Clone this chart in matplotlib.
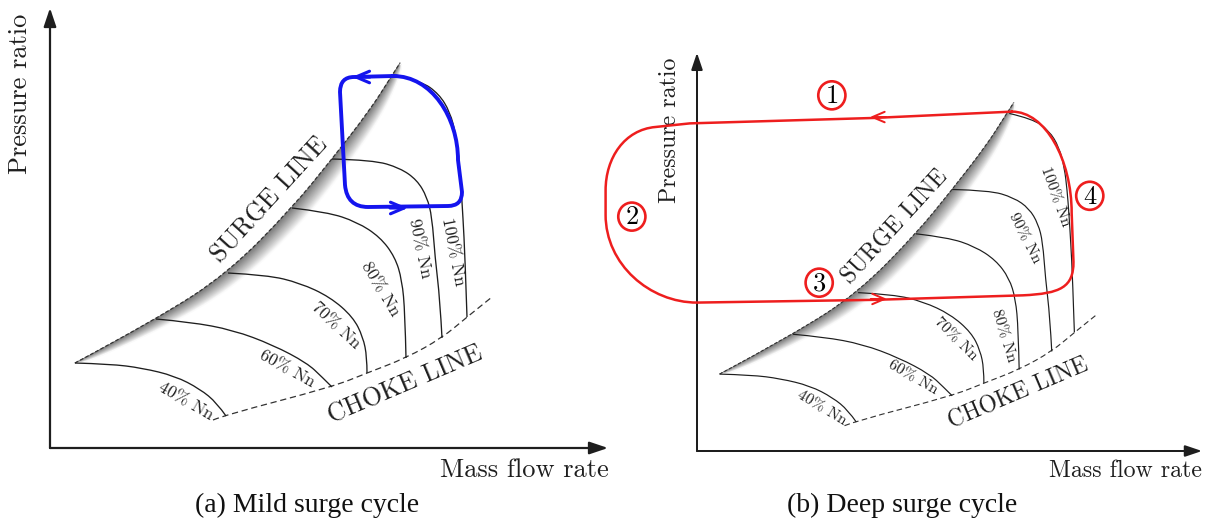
import numpy as np
import matplotlib
matplotlib.use("Agg")
import matplotlib.pyplot as plt
from matplotlib.path import Path
from matplotlib.patches import PathPatch, Ellipse, Polygon

# ---------------- data (map units: mass flow rate, pressure ratio; arbitrary) ----------------
speed_labels = ["40% Nn", "60% Nn", "70% Nn", "80% Nn", "90% Nn", "100% Nn"]

surge_x = [25, 107, 178, 242, 282, 320, 341, 350]
surge_y = [85, 129, 175, 240, 289, 338, 371, 385]

choke_x = [163, 175, 282, 317, 356, 392, 417, 442]
choke_y = [28, 33, 61, 75, 90, 110, 131, 151]

n40_x = [25, 60, 92, 125, 150, 167, 176]
n40_y = [85, 84, 80, 72, 59, 45, 32]
n60_x = [106, 140, 183, 223, 257, 272, 282]
n60_y = [129, 126, 118, 103, 85, 71, 61]
n70_x = [178, 217, 250, 280, 303, 313, 317, 317]
n70_y = [175, 173, 165, 151, 131, 111, 91, 75]
n80_x = [242, 277, 307, 330, 345, 352, 355, 356]
n80_y = [240, 236, 226, 211, 191, 168, 135, 90]
n90_x = [282, 323, 350, 367, 377, 382, 385, 390, 392]
n90_y = [289, 288, 280, 268, 251, 231, 191, 148, 110]
n100_x = [345, 371, 389, 400, 406, 409, 411, 413, 415, 417]
n100_y = [373, 367, 354, 336, 313, 288, 262, 230, 191, 131]

# mild surge cycle (closed loop, rounded rectangle)
mild_x = [343, 304, 290, 290, 295, 297, 318, 398, 412, 412, 408, 408, 382, 343]
mild_y = [372, 371, 371, 356, 263, 241, 241, 242, 242, 256, 288, 330, 372, 372]
mild_codes = ["M", "L", "Q", "Q", "L", "Q", "Q", "L", "Q", "Q", "L", "C", "C", "C"]
mild_arrow_x = [302, 358]
mild_arrow_y = [371, 240]
mild_arrow_dir = [-1, 1]

# deep surge cycle (closed loop)
deep_x = [348, 195, -8, -46, -80, -101, -101, -101, -101, -52, 0, 195, 360, 402, 416, 416, 414, 414, 385, 348]
deep_y = [375, 368, 362, 358, 355, 324, 288, 261, 206, 164, 164, 167, 172, 174, 181, 209, 263, 322, 375, 375]
deep_codes = ["M", "L", "L", "L", "C", "C", "C", "L", "C", "C", "C", "L", "L", "C", "C", "C", "L", "C", "C", "C"]
deep_arrow_x = [191, 210]
deep_arrow_y = [369, 168]
deep_arrow_dir = [-1, 1]

phase_labels = ["1", "2", "3", "4"]
phase_x = [149, -72, 135, 434]
phase_y = [393, 259, 186, 282]

# ---------------- layout ----------------
W, H = 1205, 519
fig = plt.figure(figsize=(W / 100, H / 100), dpi=100)
fig.patch.set_facecolor("white")

CM = "cmr10"
INK = "#1e1e1e"
BLUE = "#1414ee"
RED = "#ee1e1e"

speed_x = [n40_x, n60_x, n70_x, n80_x, n90_x, n100_x]
speed_y = [n40_y, n60_y, n70_y, n80_y, n90_y, n100_y]

CODEMAP = {"M": Path.MOVETO, "L": Path.LINETO, "Q": Path.CURVE3, "C": Path.CURVE4}


def make_ax(px_left, px_right, ox, oy, scale):
    ax = fig.add_axes([px_left / W, 0, (px_right - px_left) / W, 1])
    ax.set_xlim((px_left - ox) / scale, (px_right - ox) / scale)
    ax.set_ylim((oy - H) / scale, oy / scale)
    ax.axis("off")
    ax.patch.set_alpha(0)
    return ax


def smooth(xs, ys):
    p = np.column_stack([xs, ys]).astype(float)
    verts = [p[0]]
    codes = [Path.MOVETO]
    n = len(p)
    for i in range(1, n - 1):
        end = p[-1] if i == n - 2 else (p[i] + p[i + 1]) / 2
        verts += [p[i], end]
        codes += [Path.CURVE3, Path.CURVE3]
    if n == 2:
        verts.append(p[1])
        codes.append(Path.LINETO)
    return Path(np.array(verts), codes)


def smooth_samples(xs, ys, m=30):
    # sample the same quadratic curve that smooth() draws (for the shadow band)
    p = np.column_stack([xs, ys]).astype(float)
    n = len(p)
    out = [p[:1]]
    start = p[0]
    t = np.linspace(0, 1, m)[1:, None]
    for i in range(1, n - 1):
        end = p[-1] if i == n - 2 else (p[i] + p[i + 1]) / 2
        out.append((1 - t) ** 2 * start + 2 * (1 - t) * t * p[i] + t ** 2 * end)
        start = end
    return np.vstack(out)


def shadow(ax, xs, ys, width, zorder=1):
    P = smooth_samples(xs, ys)
    s = np.concatenate([[0], np.cumsum(np.hypot(*np.diff(P, axis=0).T))])
    u = s / s[-1]
    t = np.gradient(P, axis=0)
    t /= np.hypot(t[:, 0], t[:, 1])[:, None]
    nrm = np.column_stack([t[:, 1], -t[:, 0]])
    w = width * np.sin(np.pi * u) ** 0.45 * (0.6 + 0.4 * u)
    K = 30
    for k in range(K):
        a = P + nrm * (w * k / K)[:, None]
        b = P + nrm * (w * (k + 1) / K)[:, None]
        g = 1 - 0.55 * (1 - (k + 0.5) / K) ** 0.9
        poly = np.vstack([a, b[::-1]])
        ax.add_patch(Polygon(poly, closed=True, fc=(g, g, g), ec=(g, g, g), lw=0.3, zorder=zorder))


def draw_map(ax, s, label_pos):
    shadow(ax, surge_x, surge_y, 21)
    ax.add_patch(PathPatch(smooth(surge_x, surge_y), fill=False, ec="#333333", lw=0.9 * s,
                           ls=(0, (3, 1.6)), zorder=3, capstyle="butt"))
    ax.add_patch(PathPatch(smooth(choke_x, choke_y), fill=False, ec="#333333", lw=0.9 * s,
                           ls=(0, (5, 3)), zorder=3))
    for xs, ys in zip(speed_x, speed_y):
        ax.add_patch(PathPatch(smooth(xs, ys), fill=False, ec=INK, lw=0.95 * s, zorder=3))
    for lab, (x, y, r) in zip(speed_labels, label_pos):
        ax.text(x, y, lab, family=CM, fontsize=12.5 * s, rotation=r, rotation_mode="anchor",
                ha="center", va="center", color=INK, zorder=4)
    ax.text(219.5, 248, "SURGE LINE", family=CM, fontsize=18.5 * s, rotation=47.5,
            rotation_mode="anchor", ha="center", va="center", color=INK, zorder=4)
    ax.text(355, 63, "CHOKE LINE", family=CM, fontsize=18.5 * s, rotation=23,
            rotation_mode="anchor", ha="center", va="center", color=INK, zorder=4)
    for tip in [(558, 0), (0, 440)]:
        ax.annotate("", xy=tip, xytext=(0, 0), zorder=2,
                    arrowprops=dict(arrowstyle="-|>,head_length=0.8,head_width=0.27",
                                    lw=1.6 * s, color=INK, mutation_scale=14 * s,
                                    shrinkA=0, shrinkB=0))
    ax.text(-30, 354, "Pressure ratio", family=CM, fontsize=19 * s, rotation=90,
            ha="center", va="center", color=INK)
    ax.text(474, -22, "Mass flow rate", family=CM, fontsize=19 * s,
            ha="center", va="center", color=INK)


def draw_loop(ax, xs, ys, codes, color, lw, ax_x, ax_y, ax_d, s):
    path = Path(np.column_stack([xs, ys]), [CODEMAP[c] for c in codes])
    ax.add_patch(PathPatch(path, fill=False, ec=color, lw=lw, zorder=5,
                           joinstyle="round", capstyle="round", clip_on=False))
    for x, y, dr in zip(ax_x, ax_y, ax_d):
        ax.annotate("", xy=(x, y), xytext=(x - dr * 18, y), zorder=6,
                    arrowprops=dict(arrowstyle="->,head_length=0.75,head_width=0.32",
                                    lw=lw * 0.8, color=color, mutation_scale=13 * s,
                                    shrinkA=0, shrinkB=0))


# panel (a)
axA = make_ax(0, 620, 50, 448, 1.0)
labels_a = [(136, 47, -30), (237, 79, -29), (286, 122, -43), (330, 159, -59), (370, 200, -78), (403, 196, -79)]
draw_map(axA, 1.0, labels_a)
draw_loop(axA, mild_x, mild_y, mild_codes, BLUE, 2.8, mild_arrow_x, mild_arrow_y, mild_arrow_dir, 1.0)

# panel (b)
SB = 0.905
axB = make_ax(590, 1205, 697, 451, SB)
labels_b = [(138, 47, -31), (238, 81, -30), (286, 124, -45), (338, 127, -73), (362, 235, -63), (395, 281, -70)]
draw_map(axB, SB, labels_b)
draw_loop(axB, deep_x, deep_y, deep_codes, RED, 1.8, deep_arrow_x, deep_arrow_y, deep_arrow_dir, SB)
for lab, x, y in zip(phase_labels, phase_x, phase_y):
    axB.add_patch(Ellipse((x, y), 30, 31, fill=False, ec=RED, lw=1.9, zorder=6, clip_on=False))
    axB.text(x, y - 1, lab, family=CM, fontsize=19, ha="center", va="center", color="black", zorder=7)

# captions
fig.text(307.5 / W, 1 - 512 / H, "(a) Mild surge cycle", family="Liberation Serif", fontsize=20,
         ha="center", va="baseline", color="#111111")
fig.text(902 / W, 1 - 512 / H, "(b) Deep surge cycle", family="Liberation Serif", fontsize=20,
         ha="center", va="baseline", color="#111111")

fig.savefig("out.png", dpi=100, facecolor="white")
